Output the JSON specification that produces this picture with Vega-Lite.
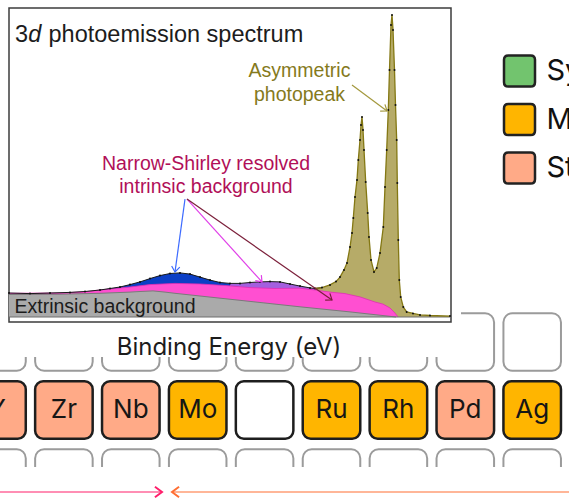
{
  "$schema": "https://vega.github.io/schema/vega-lite/v6.json",
  "width": 569,
  "height": 500,
  "padding": 0,
  "autosize": {"type": "none"},
  "background": "white",
  "config": {"view": {"stroke": null}},
  "datasets": {
    "cells": [
      {"symbol": "Sc", "group": 3, "period": 4}, {"symbol": "Ti", "group": 4, "period": 4}, {"symbol": "V", "group": 5, "period": 4}, {"symbol": "Cr", "group": 6, "period": 4}, {"symbol": "Mn", "group": 7, "period": 4}, {"symbol": "Fe", "group": 8, "period": 4}, {"symbol": "Co", "group": 9, "period": 4}, {"symbol": "Ni", "group": 10, "period": 4}, {"symbol": "Cu", "group": 11, "period": 4}, {"symbol": "Zn", "group": 12, "period": 4},
      {"symbol": "Y", "group": 3, "period": 5, "category": "Strongly asymmetric"},
      {"symbol": "Zr", "group": 4, "period": 5, "category": "Strongly asymmetric"},
      {"symbol": "Nb", "group": 5, "period": 5, "category": "Strongly asymmetric"},
      {"symbol": "Mo", "group": 6, "period": 5, "category": "Moderately asymmetric"},
      {"symbol": "", "group": 7, "period": 5, "category": null},
      {"symbol": "Ru", "group": 8, "period": 5, "category": "Moderately asymmetric"},
      {"symbol": "Rh", "group": 9, "period": 5, "category": "Moderately asymmetric"},
      {"symbol": "Pd", "group": 10, "period": 5, "category": "Strongly asymmetric"},
      {"symbol": "Ag", "group": 11, "period": 5, "category": "Moderately asymmetric"},
      {"symbol": "Cd", "group": 12, "period": 5, "category": null},
      {"symbol": "Lu", "group": 3, "period": 6}, {"symbol": "Hf", "group": 4, "period": 6}, {"symbol": "Ta", "group": 5, "period": 6}, {"symbol": "W", "group": 6, "period": 6}, {"symbol": "Re", "group": 7, "period": 6}, {"symbol": "Os", "group": 8, "period": 6}, {"symbol": "Ir", "group": 9, "period": 6}, {"symbol": "Pt", "group": 10, "period": 6}, {"symbol": "Au", "group": 11, "period": 6}, {"symbol": "Hg", "group": 12, "period": 6}
    ],
    "env": [
      {"E": 420.0, "I": 8.0}, {"E": 415.8, "I": 7.8}, {"E": 411.8, "I": 8.0}, {"E": 407.8, "I": 8.2}, {"E": 404.8, "I": 8.5}, {"E": 401.8, "I": 9.0}, {"E": 399.8, "I": 9.5}, {"E": 397.8, "I": 10.0}, {"E": 395.8, "I": 10.8}, {"E": 393.8, "I": 11.7}, {"E": 391.8, "I": 12.8}, {"E": 389.8, "I": 13.8}, {"E": 387.8, "I": 14.5}, {"E": 385.8, "I": 14.7}, {"E": 383.8, "I": 14.3}, {"E": 381.8, "I": 13.3}, {"E": 379.8, "I": 12.3}, {"E": 377.8, "I": 11.5}, {"E": 375.8, "I": 11.2}, {"E": 373.8, "I": 11.2}, {"E": 371.8, "I": 11.5}, {"E": 369.8, "I": 11.7}, {"E": 367.8, "I": 11.8}, {"E": 365.8, "I": 11.7}, {"E": 363.8, "I": 11.0}, {"E": 361.8, "I": 10.3}, {"E": 359.8, "I": 9.7}, {"E": 358.8, "I": 9.5}, {"E": 357.4, "I": 9.8}, {"E": 355.8, "I": 10.7}, {"E": 354.6, "I": 11.8}, {"E": 353.8, "I": 13.3}, {"E": 353.0, "I": 15.7}, {"E": 352.4, "I": 18.0}, {"E": 351.8, "I": 23.3}, {"E": 351.4, "I": 28.0}, {"E": 351.14, "I": 33.0}, {"E": 350.8, "I": 40.0}, {"E": 350.4, "I": 45.7}, {"E": 350.14, "I": 52.3}, {"E": 349.8, "I": 59.0}, {"E": 349.6, "I": 64.0}, {"E": 349.4, "I": 66.7}, {"E": 349.2, "I": 62.3}, {"E": 349.0, "I": 55.7}, {"E": 348.66, "I": 45.0}, {"E": 348.26, "I": 34.7}, {"E": 348.0, "I": 26.7}, {"E": 347.6, "I": 19.0}, {"E": 347.0, "I": 15.0}, {"E": 346.46, "I": 16.3}, {"E": 345.8, "I": 21.3}, {"E": 345.14, "I": 30.0}, {"E": 344.8, "I": 43.3}, {"E": 344.46, "I": 55.7}, {"E": 344.14, "I": 69.0}, {"E": 343.9, "I": 82.3}, {"E": 343.6, "I": 97.3}, {"E": 343.4, "I": 100.7}, {"E": 343.2, "I": 95.7}, {"E": 342.9, "I": 82.3}, {"E": 342.7, "I": 70.7}, {"E": 342.46, "I": 59.0}, {"E": 342.34, "I": 44.7}, {"E": 342.14, "I": 25.7}, {"E": 341.94, "I": 12.3}, {"E": 341.66, "I": 6.7}, {"E": 341.14, "I": 3.3}, {"E": 340.46, "I": 1.7}, {"E": 339.2, "I": 1.2}, {"E": 337.8, "I": 0.7}, {"E": 335.8, "I": 0.5}, {"E": 331.8, "I": 0.3}
    ],
    "mag": [
      {"E": 420.0, "I": 7.9}, {"E": 409.8, "I": 8.0}, {"E": 404.8, "I": 8.4}, {"E": 401.8, "I": 9.0}, {"E": 398.8, "I": 9.5}, {"E": 395.8, "I": 10.0}, {"E": 391.8, "I": 10.8}, {"E": 386.8, "I": 11.2}, {"E": 381.8, "I": 11.0}, {"E": 376.8, "I": 10.5}, {"E": 371.8, "I": 9.8}, {"E": 366.8, "I": 9.5}, {"E": 361.8, "I": 9.6}, {"E": 358.8, "I": 9.0}, {"E": 355.8, "I": 8.3}, {"E": 352.8, "I": 7.8}, {"E": 349.8, "I": 6.7}, {"E": 346.8, "I": 5.0}, {"E": 345.2, "I": 4.3}, {"E": 343.8, "I": 3.0}, {"E": 342.8, "I": 1.3}, {"E": 342.2, "I": 0}
    ],
    "ext": [
      {"E": 420.0, "I": 7.5}, {"E": 409.8, "I": 7.6}, {"E": 401.8, "I": 7.9}, {"E": 395.8, "I": 8.3}, {"E": 393.8, "I": 8.5}, {"E": 391.2, "I": 8.7}, {"E": 388.8, "I": 8.3}, {"E": 386.8, "I": 7.9}, {"E": 381.8, "I": 7.0}, {"E": 371.8, "I": 5.2}, {"E": 361.8, "I": 3.4}, {"E": 351.8, "I": 1.7}, {"E": 342.6, "I": 0}
    ],
    "arrows": [
      {"name": "blue", "E1": 384.8, "I1": 39.3, "E2": 386.8, "I2": 15.0},
      {"name": "magenta", "E1": 384.4, "I1": 39.3, "E2": 369.4, "I2": 11.7},
      {"name": "darkred", "E1": 384.4, "I1": 39.3, "E2": 355.4, "I2": 5.7},
      {"name": "olive", "E1": 351.4, "I1": 77.3, "E2": 344.4, "I2": 68.7},
      {"name": "pink", "E1": 421.8, "I1": -58.33, "E2": 389.4, "I2": -58.33},
      {"name": "orange", "E1": 308.0, "I1": -58.33, "E2": 387.4, "I2": -58.33}
    ]
  },
  "resolve": {"scale": {"x": "independent", "y": "independent"}},
  "layer": [
    {
      "data": {"name": "cells"},
      "layer": [
        {
          "transform": [{"filter": "datum.period != 5"}],
          "mark": {"type": "rect", "fill": "white", "stroke": "#9b9b9b", "strokeWidth": 2, "cornerRadius": 9},
          "encoding": {
            "x": {"field": "group", "type": "ordinal", "scale": {"domain": [3,4,5,6,7,8,9,10,11,12], "range": [-36.45, 632.55], "paddingInner": 0.14, "paddingOuter": 0.07}, "axis": null},
            "y": {"field": "period", "type": "ordinal", "scale": {"domain": [4,5,6], "range": [308, 512], "paddingInner": 0.154, "paddingOuter": 0.077}, "axis": null}
          }
        },
        {
          "transform": [{"filter": "datum.period == 5"}],
          "mark": {"type": "rect", "stroke": "#1e1e1e", "strokeWidth": 2.5, "cornerRadius": 8, "opacity": 1},
          "encoding": {
            "x": {"field": "group", "type": "ordinal", "scale": {"domain": [3,4,5,6,7,8,9,10,11,12], "range": [-36.45, 632.55], "paddingInner": 0.14, "paddingOuter": 0.07}, "axis": null},
            "y": {"field": "period", "type": "ordinal", "scale": {"domain": [4,5,6], "range": [308, 512], "paddingInner": 0.154, "paddingOuter": 0.077}, "axis": null},
            "fill": {
              "condition": {"test": "datum.category == null", "value": "#ffffff"},
              "field": "category", "type": "nominal",
              "scale": {"domain": ["Symmetric", "Moderately asymmetric", "Strongly asymmetric"], "range": ["#72c46e", "#ffb500", "#ffaa87"]},
              "legend": {
                "title": null, "orient": "none", "legendX": 502.5, "legendY": 54, "padding": 0,
                "symbolType": "M-0.72,-1L0.72,-1Q1,-1,1,-0.72L1,0.72Q1,1,0.72,1L-0.72,1Q-1,1,-1,0.72L-1,-0.72Q-1,-1,-0.72,-1Z",
                "symbolSize": 961, "symbolStrokeColor": "#222222", "symbolStrokeWidth": 2.5, "symbolOpacity": 1,
                "labelFont": "Inter", "labelFontSize": 29, "labelColor": "#111111", "labelOffset": 10, "labelLimit": 0, "rowPadding": 6.5
              }
            }
          }
        },
        {
          "transform": [{"filter": "datum.period == 5"}],
          "mark": {"type": "text", "font": "Inter", "fontSize": 26, "color": "#161616", "baseline": "middle", "align": "center"},
          "encoding": {
            "x": {"field": "group", "type": "ordinal", "scale": {"domain": [3,4,5,6,7,8,9,10,11,12], "range": [-36.45, 632.55], "paddingInner": 0.14, "paddingOuter": 0.07}, "axis": null},
            "y": {"field": "period", "type": "ordinal", "scale": {"domain": [4,5,6], "range": [308, 512], "paddingInner": 0.154, "paddingOuter": 0.077}, "axis": null},
            "text": {"field": "symbol"}
          }
        }
      ]
    },
    {
      "layer": [
        {
          "data": {"values": [{}]},
          "mark": {"type": "rect", "fill": "white"},
          "encoding": {
            "x": {"datum": 421.8, "type": "quantitative", "scale": {"domain": [308, 421.8], "reverse": true, "nice": false, "zero": false}, "axis": null},
            "x2": {"datum": 329.6},
            "y": {"datum": 105.6667, "type": "quantitative", "scale": {"domain": [-61, 105.6667], "nice": false, "zero": false}, "axis": null},
            "y2": {"datum": -13.33}
          }
        },
        {
          "data": {"values": [{}]},
          "mark": {"type": "rect", "fill": "white"},
          "encoding": {
            "x": {"datum": 421.8, "type": "quantitative", "scale": {"domain": [308, 421.8], "reverse": true, "nice": false, "zero": false}, "axis": null},
            "x2": {"datum": 308},
            "y": {"datum": -50, "type": "quantitative", "scale": {"domain": [-61, 105.6667], "nice": false, "zero": false}, "axis": null},
            "y2": {"datum": -61}
          }
        },
        {
          "data": {"values": [{}]},
          "mark": {"type": "rect", "fill": "white", "stroke": "#3c3c3c", "strokeWidth": 1.5},
          "encoding": {
            "x": {"datum": 420.0, "type": "quantitative", "scale": {"domain": [308, 421.8], "reverse": true, "nice": false, "zero": false}, "axis": null},
            "x2": {"datum": 331.6},
            "y": {"datum": 103.0, "type": "quantitative", "scale": {"domain": [-61, 105.6667], "nice": false, "zero": false}, "axis": null},
            "y2": {"datum": -1.67}
          }
        },
        {
          "data": {"name": "env"},
          "transform": [{"filter": "datum.E <= 358.8"}],
          "mark": {"type": "area", "fill": "#b6ab68", "opacity": 1},
          "encoding": {
            "x": {"field": "E", "type": "quantitative", "scale": {"domain": [308, 421.8], "reverse": true, "nice": false, "zero": false}, "axis": null},
            "y": {"field": "I", "type": "quantitative", "scale": {"domain": [-61, 105.6667], "nice": false, "zero": false}, "axis": null},
            "y2": {"datum": 0}
          }
        },
        {
          "data": {"name": "env"},
          "transform": [{"filter": "datum.E >= 358.8 && datum.E <= 375.8"}],
          "mark": {"type": "area", "fill": "#a45fdf", "opacity": 1},
          "encoding": {
            "x": {"field": "E", "type": "quantitative", "scale": {"domain": [308, 421.8], "reverse": true, "nice": false, "zero": false}, "axis": null},
            "y": {"field": "I", "type": "quantitative", "scale": {"domain": [-61, 105.6667], "nice": false, "zero": false}, "axis": null},
            "y2": {"datum": 0}
          }
        },
        {
          "data": {"name": "env"},
          "transform": [{"filter": "datum.E >= 375.8 && datum.E <= 401.8"}],
          "mark": {"type": "area", "fill": "#0c3fc6", "opacity": 1},
          "encoding": {
            "x": {"field": "E", "type": "quantitative", "scale": {"domain": [308, 421.8], "reverse": true, "nice": false, "zero": false}, "axis": null},
            "y": {"field": "I", "type": "quantitative", "scale": {"domain": [-61, 105.6667], "nice": false, "zero": false}, "axis": null},
            "y2": {"datum": 0}
          }
        },
        {
          "data": {"name": "mag"},
          "mark": {"type": "area", "fill": "#ff4fd1", "opacity": 1, "line": {"color": "#e02eb4", "strokeWidth": 0.8}},
          "encoding": {
            "x": {"field": "E", "type": "quantitative", "scale": {"domain": [308, 421.8], "reverse": true, "nice": false, "zero": false}, "axis": null},
            "y": {"field": "I", "type": "quantitative", "scale": {"domain": [-61, 105.6667], "nice": false, "zero": false}, "axis": null},
            "y2": {"datum": 0}
          }
        },
        {
          "data": {"name": "ext"},
          "mark": {"type": "area", "fill": "#aaaaaa", "opacity": 1, "line": {"color": "#7a7a7a", "strokeWidth": 1}},
          "encoding": {
            "x": {"field": "E", "type": "quantitative", "scale": {"domain": [308, 421.8], "reverse": true, "nice": false, "zero": false}, "axis": null},
            "y": {"field": "I", "type": "quantitative", "scale": {"domain": [-61, 105.6667], "nice": false, "zero": false}, "axis": null},
            "y2": {"datum": 0}
          }
        },
        {
          "data": {"values": [{}]},
          "mark": {"type": "rule", "color": "#6f6f6f", "strokeWidth": 1.2},
          "encoding": {
            "x": {"datum": 420.0, "type": "quantitative", "scale": {"domain": [308, 421.8], "reverse": true, "nice": false, "zero": false}, "axis": null},
            "x2": {"datum": 331.6},
            "y": {"datum": 0, "type": "quantitative", "scale": {"domain": [-61, 105.6667], "nice": false, "zero": false}, "axis": null}
          }
        },
        {
          "data": {"name": "env"},
          "transform": [{"filter": "datum.E >= 357.4"}],
          "mark": {"type": "line", "color": "#1a1a1a", "strokeWidth": 1},
          "encoding": {
            "x": {"field": "E", "type": "quantitative", "scale": {"domain": [308, 421.8], "reverse": true, "nice": false, "zero": false}, "axis": null},
            "y": {"field": "I", "type": "quantitative", "scale": {"domain": [-61, 105.6667], "nice": false, "zero": false}, "axis": null}
          }
        },
        {
          "data": {"name": "env"},
          "transform": [{"filter": "datum.E <= 358.8"}],
          "mark": {"type": "line", "color": "#847814", "strokeWidth": 1.3},
          "encoding": {
            "x": {"field": "E", "type": "quantitative", "scale": {"domain": [308, 421.8], "reverse": true, "nice": false, "zero": false}, "axis": null},
            "y": {"field": "I", "type": "quantitative", "scale": {"domain": [-61, 105.6667], "nice": false, "zero": false}, "axis": null}
          }
        },
        {
          "data": {"name": "env"},
          "mark": {"type": "point", "filled": true, "color": "#111111", "size": 4, "opacity": 1},
          "encoding": {
            "x": {"field": "E", "type": "quantitative", "scale": {"domain": [308, 421.8], "reverse": true, "nice": false, "zero": false}, "axis": null},
            "y": {"field": "I", "type": "quantitative", "scale": {"domain": [-61, 105.6667], "nice": false, "zero": false}, "axis": null}
          }
        },
        {
          "data": {"name": "arrows"},
          "mark": {"type": "rule"},
          "encoding": {
            "x": {"field": "E1", "type": "quantitative", "scale": {"domain": [308, 421.8], "reverse": true, "nice": false, "zero": false}, "axis": null},
            "x2": {"field": "E2"},
            "y": {"field": "I1", "type": "quantitative", "scale": {"domain": [-61, 105.6667], "nice": false, "zero": false}, "axis": null},
            "y2": {"field": "I2"},
            "stroke": {"field": "name", "type": "nominal", "scale": {"domain": ["blue", "magenta", "darkred", "olive", "pink", "orange"], "range": ["#3d6bff", "#e040e8", "#7b1f3a", "#a4993e", "#ff1f6b", "#ff6e33"]}, "legend": null},
            "strokeWidth": {"field": "name", "type": "nominal", "scale": {"domain": ["blue", "magenta", "darkred", "olive", "pink", "orange"], "range": [1.2, 1.2, 1.2, 1.2, 2, 2]}, "legend": null}
          }
        },
        {
          "data": {"name": "arrows"},
          "transform": [{"filter": "datum.name == 'blue'"}],
          "mark": {"type": "point", "filled": false, "shape": "M-1,-0.75L0,0L-1,0.75", "size": 120, "stroke": "#3d6bff", "strokeWidth": 1.2, "opacity": 1, "angle": 97.7},
          "encoding": {
            "x": {"field": "E2", "type": "quantitative", "scale": {"domain": [308, 421.8], "reverse": true, "nice": false, "zero": false}, "axis": null},
            "y": {"field": "I2", "type": "quantitative", "scale": {"domain": [-61, 105.6667], "nice": false, "zero": false}, "axis": null}
          }
        },
        {
          "data": {"name": "arrows"},
          "transform": [{"filter": "datum.name == 'magenta'"}],
          "mark": {"type": "point", "filled": false, "shape": "M-1,-0.75L0,0L-1,0.75", "size": 120, "stroke": "#e040e8", "strokeWidth": 1.2, "opacity": 1, "angle": 47.5},
          "encoding": {
            "x": {"field": "E2", "type": "quantitative", "scale": {"domain": [308, 421.8], "reverse": true, "nice": false, "zero": false}, "axis": null},
            "y": {"field": "I2", "type": "quantitative", "scale": {"domain": [-61, 105.6667], "nice": false, "zero": false}, "axis": null}
          }
        },
        {
          "data": {"name": "arrows"},
          "transform": [{"filter": "datum.name == 'darkred'"}],
          "mark": {"type": "point", "filled": false, "shape": "M-1,-0.75L0,0L-1,0.75", "size": 120, "stroke": "#7b1f3a", "strokeWidth": 1.2, "opacity": 1, "angle": 35.1},
          "encoding": {
            "x": {"field": "E2", "type": "quantitative", "scale": {"domain": [308, 421.8], "reverse": true, "nice": false, "zero": false}, "axis": null},
            "y": {"field": "I2", "type": "quantitative", "scale": {"domain": [-61, 105.6667], "nice": false, "zero": false}, "axis": null}
          }
        },
        {
          "data": {"name": "arrows"},
          "transform": [{"filter": "datum.name == 'olive'"}],
          "mark": {"type": "point", "filled": false, "shape": "M-1,-0.75L0,0L-1,0.75", "size": 120, "stroke": "#a4993e", "strokeWidth": 1.2, "opacity": 1, "angle": 35.5},
          "encoding": {
            "x": {"field": "E2", "type": "quantitative", "scale": {"domain": [308, 421.8], "reverse": true, "nice": false, "zero": false}, "axis": null},
            "y": {"field": "I2", "type": "quantitative", "scale": {"domain": [-61, 105.6667], "nice": false, "zero": false}, "axis": null}
          }
        },
        {
          "data": {"name": "arrows"},
          "transform": [{"filter": "datum.name == 'pink'"}],
          "mark": {"type": "point", "filled": false, "shape": "M-1,-0.75L0,0L-1,0.75", "size": 200, "stroke": "#ff1f6b", "strokeWidth": 2, "opacity": 1, "angle": 0},
          "encoding": {
            "x": {"field": "E2", "type": "quantitative", "scale": {"domain": [308, 421.8], "reverse": true, "nice": false, "zero": false}, "axis": null},
            "y": {"field": "I2", "type": "quantitative", "scale": {"domain": [-61, 105.6667], "nice": false, "zero": false}, "axis": null}
          }
        },
        {
          "data": {"name": "arrows"},
          "transform": [{"filter": "datum.name == 'orange'"}],
          "mark": {"type": "point", "filled": false, "shape": "M-1,-0.75L0,0L-1,0.75", "size": 200, "stroke": "#ff6e33", "strokeWidth": 2, "opacity": 1, "angle": 180},
          "encoding": {
            "x": {"field": "E2", "type": "quantitative", "scale": {"domain": [308, 421.8], "reverse": true, "nice": false, "zero": false}, "axis": null},
            "y": {"field": "I2", "type": "quantitative", "scale": {"domain": [-61, 105.6667], "nice": false, "zero": false}, "axis": null}
          }
        },
        {
          "data": {"values": [{"label": "3", "E": 418.8, "I": 91.67}, {"label": "photoemission spectrum", "E": 412.1, "I": 91.67}]},
          "mark": {"type": "text", "font": "Liberation Sans", "fontSize": 23.5, "color": "#1c1c1c", "align": "left", "baseline": "alphabetic"},
          "encoding": {
            "x": {"field": "E", "type": "quantitative", "scale": {"domain": [308, 421.8], "reverse": true, "nice": false, "zero": false}, "axis": null},
            "y": {"field": "I", "type": "quantitative", "scale": {"domain": [-61, 105.6667], "nice": false, "zero": false}, "axis": null},
            "text": {"field": "label"}
          }
        },
        {
          "data": {"values": [{"label": "d", "E": 416.14, "I": 91.67}]},
          "mark": {"type": "text", "font": "Liberation Sans", "fontStyle": "italic", "fontSize": 23.5, "color": "#1c1c1c", "align": "left", "baseline": "alphabetic"},
          "encoding": {
            "x": {"field": "E", "type": "quantitative", "scale": {"domain": [308, 421.8], "reverse": true, "nice": false, "zero": false}, "axis": null},
            "y": {"field": "I", "type": "quantitative", "scale": {"domain": [-61, 105.6667], "nice": false, "zero": false}, "axis": null},
            "text": {"field": "label"}
          }
        },
        {
          "data": {"values": [{"label": "Asymmetric\nphotopeak", "E": 361.9, "I": 80.0}]},
          "mark": {"type": "text", "font": "Liberation Sans", "fontSize": 19.5, "color": "#857a1c", "align": "center", "baseline": "alphabetic", "lineBreak": "\n", "lineHeight": 23.5},
          "encoding": {
            "x": {"field": "E", "type": "quantitative", "scale": {"domain": [308, 421.8], "reverse": true, "nice": false, "zero": false}, "axis": null},
            "y": {"field": "I", "type": "quantitative", "scale": {"domain": [-61, 105.6667], "nice": false, "zero": false}, "axis": null},
            "text": {"field": "label"}
          }
        },
        {
          "data": {"values": [{"label": "Narrow-Shirley resolved\nintrinsic background", "E": 380.6, "I": 49.0}]},
          "mark": {"type": "text", "font": "Liberation Sans", "fontSize": 19.5, "color": "#b10f58", "align": "center", "baseline": "alphabetic", "lineBreak": "\n", "lineHeight": 23.3},
          "encoding": {
            "x": {"field": "E", "type": "quantitative", "scale": {"domain": [308, 421.8], "reverse": true, "nice": false, "zero": false}, "axis": null},
            "y": {"field": "I", "type": "quantitative", "scale": {"domain": [-61, 105.6667], "nice": false, "zero": false}, "axis": null},
            "text": {"field": "label"}
          }
        },
        {
          "data": {"values": [{"label": "Extrinsic background", "E": 418.9, "I": 1.2}]},
          "mark": {"type": "text", "font": "Liberation Sans", "fontSize": 19.5, "color": "#1c1c1c", "align": "left", "baseline": "alphabetic"},
          "encoding": {
            "x": {"field": "E", "type": "quantitative", "scale": {"domain": [308, 421.8], "reverse": true, "nice": false, "zero": false}, "axis": null},
            "y": {"field": "I", "type": "quantitative", "scale": {"domain": [-61, 105.6667], "nice": false, "zero": false}, "axis": null},
            "text": {"field": "label"}
          }
        },
        {
          "data": {"values": [{"label": "Binding Energy (eV)", "E": 376.0, "I": -12.67}]},
          "mark": {"type": "text", "font": "Inter", "fontSize": 24, "color": "#1c1c1c", "align": "center", "baseline": "alphabetic"},
          "encoding": {
            "x": {"field": "E", "type": "quantitative", "scale": {"domain": [308, 421.8], "reverse": true, "nice": false, "zero": false}, "axis": null},
            "y": {"field": "I", "type": "quantitative", "scale": {"domain": [-61, 105.6667], "nice": false, "zero": false}, "axis": null},
            "text": {"field": "label"}
          }
        }
      ]
    }
  ]
}
